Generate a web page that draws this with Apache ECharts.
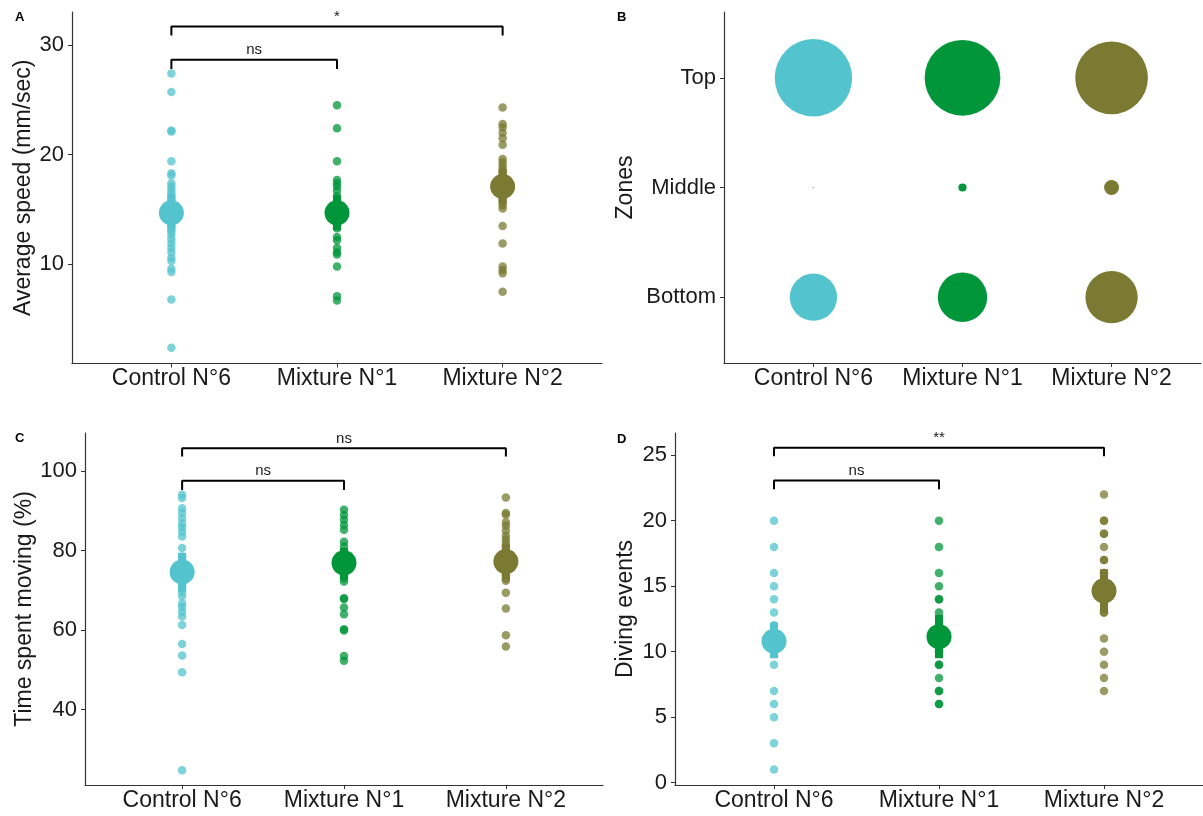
<!DOCTYPE html>
<html><head><meta charset="utf-8">
<script src="https://cdn.jsdelivr.net/npm/echarts@6/dist/echarts.min.js"></script>
<style>html,body{margin:0;padding:0;background:#fff}#c{width:1203px;height:816px}</style>
</head><body><div id="c"></div>
<script>
// ---------- data ----------
const groups = ['Control N°6', 'Mixture N°1', 'Mixture N°2'];
const zones = ['Bottom', 'Middle', 'Top'];
const colors = ['#53C4CD', '#009639', '#7A7A33'];

// A: average speed (mm/sec)
const speedControl = [27.4, 25.7, 22.2, 22.1, 19.4, 18.3, 18.1, 17.4, 17.1, 16.8, 16.5, 16.2, 15.9, 15.6, 15.3, 15.0, 14.7, 14.4, 14.1, 13.8, 13.4, 13.0, 12.7, 12.3, 11.9, 11.5, 11.1, 10.6, 10.3, 9.6, 9.3, 6.8, 2.4];
const speedMix1 = [24.5, 22.4, 19.4, 17.7, 17.4, 17.1, 16.7, 16.2, 15.8, 15.4, 15.0, 14.7, 14.4, 14.0, 13.6, 13.3, 12.5, 12.2, 11.5, 11.1, 10.9, 9.8, 7.1, 6.7];
const speedMix2 = [24.3, 22.8, 22.5, 22.0, 21.5, 20.9, 19.6, 19.3, 19.0, 18.7, 18.4, 18.1, 17.8, 17.5, 17.2, 16.9, 16.6, 16.3, 16.0, 15.7, 15.4, 15.1, 13.5, 11.9, 9.8, 9.5, 9.2, 7.5];
const speedMean = [14.7, 14.7, 17.1];
const speedLow = [13.0, 13.1, 15.5];
const speedHigh = [16.4, 16.3, 18.7];
const speedTicks = [10, 20, 30];

// B: zone occupancy (%), order Bottom, Middle, Top
const zoneControl = [27.1, 0.03, 72.8];
const zoneMix1 = [29.6, 0.8, 69.6];
const zoneMix2 = [33.2, 2.7, 64.1];

// C: time spent moving (%)
const movingControl = [94.0, 93.2, 90.6, 89.5, 88.1, 86.8, 85.8, 84.7, 83.5, 80.6, 78.5, 77.5, 76.5, 75.5, 74.5, 73.5, 72.5, 71.5, 70.5, 69.5, 68.5, 66.7, 65.8, 64.6, 63.4, 61.3, 56.5, 53.6, 49.4, 24.8];
const movingMix1 = [90.2, 88.9, 87.7, 86.4, 85.2, 82.2, 81.0, 79.7, 79.0, 78.2, 77.5, 76.8, 76.0, 75.2, 74.5, 73.7, 73.0, 72.2, 68.0, 67.8, 65.7, 64.0, 60.2, 59.9, 53.5, 52.3];
const movingMix2 = [93.3, 89.4, 89.0, 87.1, 86.2, 85.0, 83.7, 82.8, 81.9, 81.0, 80.1, 79.2, 78.3, 77.4, 76.5, 75.6, 74.7, 73.8, 72.9, 72.4, 69.4, 65.4, 58.7, 55.9];
const movingMean = [74.6, 76.9, 77.2];
const movingLow = [69.6, 72.6, 72.8];
const movingHigh = [79.4, 80.6, 81.6];
const movingTicks = [40, 60, 80, 100];

// D: diving events
const divingControl = [20, 18, 16, 15, 14, 13, 12, 12, 11, 11, 10, 10, 9, 7, 6, 5, 3, 1];
const divingMix1 = [20, 18, 16, 15, 14, 14, 13, 12, 11, 11, 10, 10, 9, 9, 8, 7, 7, 6, 6];
const divingMix2 = [22, 20, 20, 19, 19, 18, 17, 17, 16, 16, 15, 15, 14, 14, 13, 13, 11, 10, 9, 8, 7];
const divingMean = [10.8, 11.15, 14.65];
const divingLow = [9.5, 9.5, 13.0];
const divingHigh = [12.2, 12.8, 16.3];
const divingTicks = [0, 5, 10, 15, 20, 25];

// significance brackets: [from group, to group, bracket level, tick bottom, label]
const speedBrackets = [[1, 2, 28.65, 27.8, 'ns'], [1, 3, 31.68, 30.86, '*']];
const movingBrackets = [[1, 2, 97.5, 95.2, 'ns'], [1, 3, 105.7, 103.6, 'ns']];
const divingBrackets = [[1, 2, 23.07, 22.4, 'ns'], [1, 3, 25.57, 24.93, '**']];

// ---------- chart ----------
const FONT = '"Liberation Sans", Arial, sans-serif';
const TXT = '#1a1a1a';
const AX = '#333333';

const grids = [
  {left: 72, top: 12, width: 530, height: 351.5},
  {left: 724, top: 12, width: 477, height: 351},
  {left: 85, top: 433, width: 518, height: 352},
  {left: 675, top: 433, width: 528, height: 352}
];

function xAxisFor(gi) {
  return {
    type: 'value', gridIndex: gi, min: 0.4, max: 3.6,
    splitLine: {show: false},
    axisLine: {show: true, onZero: false, lineStyle: {color: AX, width: 1.2}},
    axisTick: {show: true, length: 4, lineStyle: {color: AX}, customValues: [1, 2, 3]},
    axisLabel: {customValues: [1, 2, 3], formatter: v => groups[Math.round(v) - 1] || '',
      fontSize: 23, color: TXT, fontFamily: FONT, margin: 4}
  };
}
function yAxisFor(gi, min, max, ticks, name, gap, fmt) {
  return {
    type: 'value', gridIndex: gi, min: min, max: max,
    name: name, nameLocation: 'middle', nameGap: gap,
    nameTextStyle: {fontSize: 23, color: TXT, fontFamily: FONT},
    splitLine: {show: false},
    axisLine: {show: true, onZero: false, lineStyle: {color: AX, width: 1.2}},
    axisTick: {show: true, length: 4, lineStyle: {color: AX}, customValues: ticks},
    axisLabel: {customValues: ticks, formatter: fmt || (v => String(v)),
      fontSize: 22, color: TXT, fontFamily: FONT, margin: 8}
  };
}

const series = [];
function addDots(axisIdx, lists, means, lows, highs, brackets) {
  lists.forEach((vals, gi) => {
    series.push({
      type: 'scatter', xAxisIndex: axisIdx, yAxisIndex: axisIdx,
      data: vals.map(v => [gi + 1, v]), symbolSize: 8.5, silent: true,
      itemStyle: {color: colors[gi], opacity: 0.75}, z: 2
    });
  });
  series.push({
    type: 'custom', xAxisIndex: axisIdx, yAxisIndex: axisIdx, silent: true, z: 3,
    data: lows.map((lo, i) => [i + 1, lo, highs[i]]),
    renderItem: (params, api) => {
      const p1 = api.coord([api.value(0), api.value(1)]);
      const p2 = api.coord([api.value(0), api.value(2)]);
      return {type: 'line', shape: {x1: p1[0], y1: p1[1], x2: p2[0], y2: p2[1]},
        style: {stroke: colors[params.dataIndex], lineWidth: 8}};
    }
  });
  series.push({
    type: 'scatter', xAxisIndex: axisIdx, yAxisIndex: axisIdx, silent: true, z: 4,
    data: means.map((m, i) => ({value: [i + 1, m], itemStyle: {color: colors[i], opacity: 1}})),
    symbolSize: 25
  });
  brackets.forEach(b => {
    series.push({
      type: 'line', xAxisIndex: axisIdx, yAxisIndex: axisIdx, silent: true, z: 5,
      symbol: 'none', animation: false,
      data: [[b[0], b[3]], [b[0], b[2]], [b[1], b[2]], [b[1], b[3]]],
      lineStyle: {color: '#000', width: 2}
    });
    series.push({
      type: 'scatter', xAxisIndex: axisIdx, yAxisIndex: axisIdx, silent: true, z: 6,
      data: [[(b[0] + b[1]) / 2, b[2]]], symbolSize: 2,
      itemStyle: {color: 'rgba(0,0,0,0)', opacity: 1},
      label: {show: true, position: 'top', distance: 1, formatter: b[4],
        fontSize: 15, color: TXT, fontFamily: FONT}
    });
  });
}

addDots(0, [speedControl, speedMix1, speedMix2], speedMean, speedLow, speedHigh, speedBrackets);
// B bubbles
[zoneControl, zoneMix1, zoneMix2].forEach((vals, gi) => {
  series.push({
    type: 'scatter', xAxisIndex: 1, yAxisIndex: 1, silent: true,
    data: vals.map((v, zi) => [gi + 1, zi + 1, v]),
    symbolSize: val => 9.08 * Math.sqrt(val[2]),
    itemStyle: {color: colors[gi], opacity: 1}
  });
});
addDots(2, [movingControl, movingMix1, movingMix2], movingMean, movingLow, movingHigh, movingBrackets);
addDots(3, [divingControl, divingMix1, divingMix2], divingMean, divingLow, divingHigh, divingBrackets);

const letterStyle = {fontSize: 13, fontWeight: 'bold', fill: '#000', fontFamily: FONT};
const option = {
  animation: false,
  backgroundColor: '#fff',
  grid: grids,
  xAxis: [xAxisFor(0), xAxisFor(1), xAxisFor(2), xAxisFor(3)],
  yAxis: [
    yAxisFor(0, 0.97, 33.0, speedTicks, 'Average speed (mm/sec)', 36),
    yAxisFor(1, 0.4, 3.6, [1, 2, 3], 'Zones', 87, v => zones[Math.round(v) - 1] || ''),
    yAxisFor(2, 21.1, 109.5, movingTicks, 'Time spent moving (%)', 49),
    yAxisFor(3, -0.18, 26.7, divingTicks, 'Diving events', 38)
  ],
  graphic: [
    {type: 'text', left: 15, top: 11, style: Object.assign({text: 'A'}, letterStyle)},
    {type: 'text', left: 617, top: 11, style: Object.assign({text: 'B'}, letterStyle)},
    {type: 'text', left: 15, top: 432, style: Object.assign({text: 'C'}, letterStyle)},
    {type: 'text', left: 617, top: 433, style: Object.assign({text: 'D'}, letterStyle)}
  ],
  series: series
};
const chart = echarts.init(document.getElementById('c'), null, {renderer: 'canvas'});
chart.setOption(option);
</script>
</body></html>
